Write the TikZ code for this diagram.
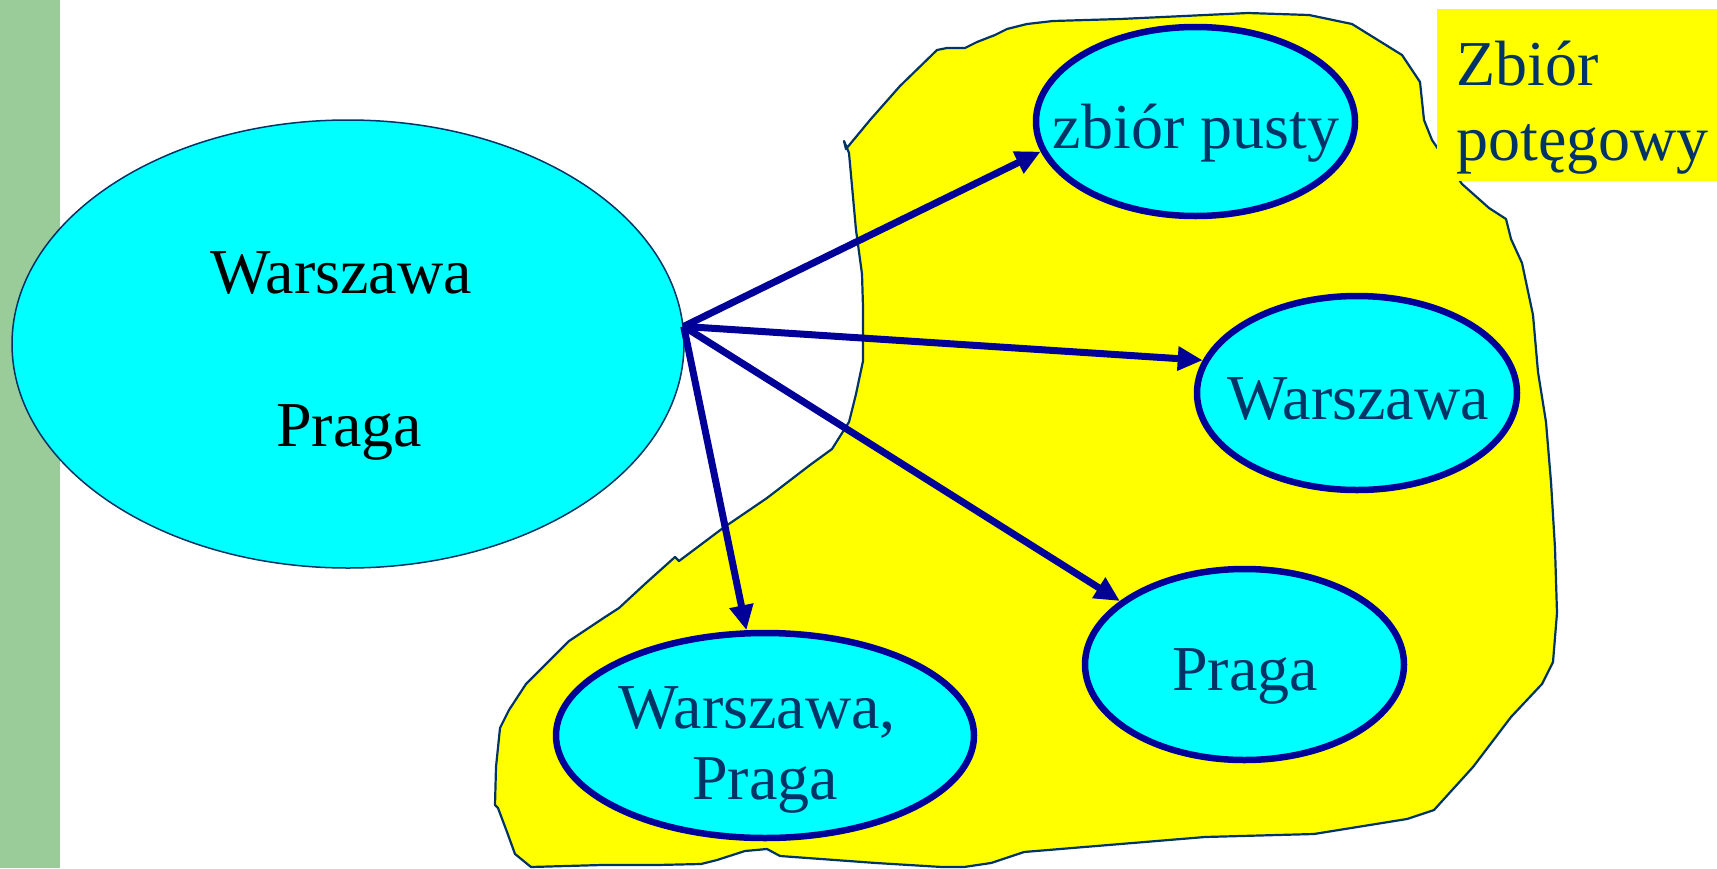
\documentclass[tikz,border=0pt]{standalone}
\usepackage{fontspec}
\setmainfont{Liberation Serif}
\usetikzlibrary{shapes.geometric,arrows.meta}
\definecolor{bargreen}{RGB}{153,204,153}
\definecolor{navy}{RGB}{0,51,102}
\definecolor{deepblue}{RGB}{0,0,153}
\definecolor{aqua}{RGB}{0,255,255}
\definecolor{lemon}{RGB}{255,255,0}
\tikzset{
  bigfont/.style={font=\fontsize{64}{72}\selectfont},
  setnode/.style={ellipse, draw=deepblue, line width=6.5pt, fill=aqua, inner sep=0pt},
  settext/.style={bigfont, text=navy, anchor=base, inner sep=0pt},
  maparrow/.style={draw=deepblue, line width=7pt, -{Triangle[length=25pt,width=23pt]}},
}
\begin{document}
\begin{tikzpicture}[x=1pt,y=-1pt]
\useasboundingbox (0,0) rectangle (1717,868);
\fill[bargreen] (0,0) rectangle (60,868);
% power set blob
\filldraw[fill=lemon, draw=navy, line width=2.2pt, line join=round]
  (844,141) -- (846,149) -- (870,120) -- (900,86) -- (937,50) -- (947,48) -- (965,48)
  -- (977,42) -- (995,35) -- (1007,29) -- (1027,24) -- (1053,21) -- (1120,19)
  -- (1248,13) -- (1309,15) -- (1352,24) -- (1402,55) -- (1420,82) -- (1424,120)
  -- (1432,140) -- (1462,184) -- (1489,208) -- (1506,219) -- (1511,239) -- (1522,263)
  -- (1533,315) -- (1538,372) -- (1546,422) -- (1551,482) -- (1555,548) -- (1557,613)
  -- (1553,662) -- (1542,684) -- (1511,717) -- (1473,767) -- (1434,810) -- (1407,819)
  -- (1314,834) -- (1205,837) -- (1024,852) -- (991,863) -- (964,867) -- (942,867)
  -- (876,863) -- (780,856) -- (767,849) -- (745,851) -- (717,860) -- (701,864)
  -- (657,865) -- (602,865) -- (531,867) -- (515,854) -- (507,832) -- (498,808)
  -- (495,805) -- (496,767) -- (500,728) -- (509,710) -- (526,684) -- (569,641)
  -- (602,619) -- (619,608) -- (646,583) -- (675,557) -- (679,561) -- (723,528)
  -- (767,498) -- (810,465) -- (832,449) -- (849,422) -- (856,394) -- (863,361)
  -- (863,307) -- (862,274) -- (856,230) -- (852,186) -- (849,153) -- cycle;
% label
\fill[lemon] (1437,9) rectangle (1717,181);
\node[bigfont, text=navy, anchor=base west, inner sep=0pt] (lab1) at (1456,85) {Zbiór};
\node[bigfont, text=navy, anchor=base west, inner sep=0pt] (lab2) at (1456,160) {potęgowy};
% domain set
\node[ellipse, draw=navy, line width=1.5pt, fill=aqua, inner sep=0pt,
      minimum width=672pt, minimum height=448pt] (big) at (348,344) {};
\node[bigfont, text=black, anchor=base, inner sep=0pt] (bw) at (341,293) {Warszawa};
\node[bigfont, text=black, anchor=base, inner sep=0pt] (bp) at (349,446) {Praga};
% subsets
\node[setnode, minimum width=319pt, minimum height=189pt] (e1) at (1195.5,121.5) {};
\node[settext] (t1) at (1196,148) {zbiór pusty};
\node[setnode, minimum width=320pt, minimum height=194pt] (e2) at (1357,393) {};
\node[settext] (t2) at (1358,419) {Warszawa};
\node[setnode, minimum width=319pt, minimum height=191pt] (e3) at (1244.5,664.5) {};
\node[settext] (t3) at (1245,690) {Praga};
\node[setnode, minimum width=418pt, minimum height=205pt] (e4) at (765,735.5) {};
\node[settext] (t4a) at (757,728) {Warszawa,};
\node[settext] (t4b) at (765,799) {Praga};
% arrows
\coordinate (src) at (big.3);
\draw[maparrow] (src) -- (e1.191);
\draw[maparrow] (src) -- (e2.168);
\draw[maparrow] (src) -- (e3.153);
\draw[maparrow] (src) -- (e4.100);
\end{tikzpicture}
\end{document}
